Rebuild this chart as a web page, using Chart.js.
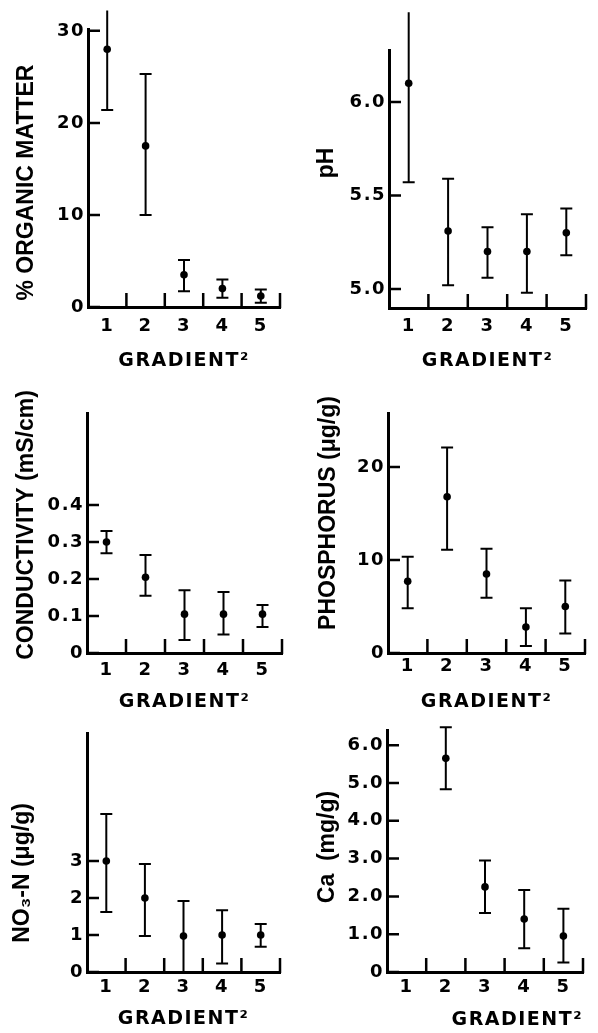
<!DOCTYPE html>
<html>
<head>
<meta charset="utf-8">
<script src="https://cdn.jsdelivr.net/npm/chart.js@4.4.1/dist/chart.umd.min.js"></script>
<style>
  html, body { margin: 0; padding: 0; background: #fff; }
  body { width: 598px; height: 1033px; position: relative; overflow: hidden; }
  canvas { position: absolute; }
</style>
</head>
<body>
<canvas id="organic" width="299" height="378" style="left:0;top:0"></canvas>
<canvas id="ph" width="299" height="378" style="left:299px;top:0"></canvas>
<canvas id="cond" width="299" height="337" style="left:0;top:378px"></canvas>
<canvas id="phos" width="299" height="337" style="left:299px;top:378px"></canvas>
<canvas id="nitrate" width="299" height="318" style="left:0;top:715px"></canvas>
<canvas id="calcium" width="299" height="318" style="left:299px;top:715px"></canvas>
<script>
// ---- data (mean, lower and upper end of the error bar) ----
const gradient = ['1', '2', '3', '4', '5'];

const organicMean = [28.0, 17.5, 3.5, 2.0, 1.2];
const organicLow  = [21.4, 10.0, 1.7, 1.0, 0.45];
const organicHigh = [32.2, 25.3, 5.1, 3.0, 1.9];
const organicTicks = [0, 10, 20, 30];

const phMean = [6.10, 5.31, 5.20, 5.20, 5.30];
const phLow  = [5.57, 5.02, 5.06, 4.98, 5.18];
const phHigh = [6.48, 5.59, 5.33, 5.40, 5.43];
const phTicks = [5.0, 5.5, 6.0];

const condMean = [0.30, 0.205, 0.105, 0.105, 0.105];
const condLow  = [0.27, 0.155, 0.035, 0.05, 0.07];
const condHigh = [0.33, 0.265, 0.17, 0.165, 0.13];
const condTicks = [0, 0.1, 0.2, 0.3, 0.4];

const phosMean = [7.7, 16.8, 8.5, 2.8, 5.0];
const phosLow  = [4.8, 11.1, 5.95, 0.75, 2.1];
const phosHigh = [10.35, 22.1, 11.2, 4.8, 7.8];
const phosTicks = [0, 10, 20];

const nitMean = [3.0, 2.0, 0.97, 1.0, 1.0];
const nitLow  = [1.62, 0.97, 0, 0.23, 0.68];
const nitHigh = [4.27, 2.92, 1.92, 1.67, 1.3];
const nitTicks = [0, 1, 2, 3];

const caMean = [null, 5.65, 2.25, 1.4, 0.95];
const caLow  = [null, 4.83, 1.56, 0.63, 0.25];
const caHigh = [null, 6.47, 2.95, 2.17, 1.67];
const caTicks = [0, 1, 2, 3, 4, 5, 6];

// ---- plugins ----
const FONT = 'DejaVu Sans';
const TITLE_FONT = 'Liberation Sans';

const spacing = {
  id: 'spacing',
  beforeLayout(chart) { chart.ctx.letterSpacing = '1.5px'; },
  beforeDraw(chart) { chart.ctx.letterSpacing = '1.5px'; }
};

// vertical bars with caps, no top cap when the bar runs off the axis
const errorBars = {
  id: 'errorBars',
  beforeDatasetsDraw(chart) {
    const {ctx, chartArea, scales: {x, y}} = chart;
    const ds = chart.data.datasets[0];
    ctx.save();
    ctx.strokeStyle = '#000';
    ctx.lineWidth = 2;
    ctx.beginPath();
    ds.errLow.forEach((lo, i) => {
      const hi = ds.errHigh[i];
      if (lo == null || hi == null) return;
      const px = x.getPixelForValue(i);
      const y1 = y.getPixelForValue(lo);
      const y2 = y.getPixelForValue(hi);
      ctx.moveTo(px, y1); ctx.lineTo(px, y2);
      ctx.moveTo(px - 6, y1); ctx.lineTo(px + 6, y1);
      if (y2 > chartArea.top - 10) { ctx.moveTo(px - 6, y2); ctx.lineTo(px + 6, y2); }
    });
    ctx.stroke();
    ctx.restore();
  }
};

// tick marks pointing into the plot
const innerTicks = {
  id: 'innerTicks',
  afterDraw(chart) {
    const {ctx, chartArea: a, scales: {x, y}} = chart;
    ctx.save();
    ctx.strokeStyle = '#000';
    ctx.lineWidth = 2.5;
    ctx.beginPath();
    y.ticks.forEach(t => {
      const py = y.getPixelForValue(t.value);
      ctx.moveTo(a.left, py); ctx.lineTo(a.left + 12, py);
    });
    const n = x.ticks.length;
    for (let i = 1; i <= n; i++) {
      const px = i < n ? (x.getPixelForValue(i - 1) + x.getPixelForValue(i)) / 2 : a.right;
      ctx.moveTo(px, a.bottom + 1); ctx.lineTo(px, a.bottom - 14);
    }
    ctx.stroke();
    ctx.restore();
  }
};

const yTitle = {
  id: 'yTitle',
  afterDraw(chart, args, opts) {
    const ctx = chart.ctx;
    ctx.save();
    ctx.letterSpacing = '0px';
    ctx.fillStyle = '#000';
    ctx.font = 'bold 23px "' + TITLE_FONT + '"';
    ctx.textAlign = 'center';
    ctx.textBaseline = 'middle';
    ctx.translate(opts.x, opts.y);
    ctx.rotate(-Math.PI / 2);
    ctx.fillText(opts.text, 0, 0);
    ctx.restore();
  }
};

const oneDecimal = v => v === 0 ? '0' : v.toFixed(1);

function panel(id, o) {
  return new Chart(document.getElementById(id), {
    type: 'line',
    data: {
      labels: gradient,
      datasets: [{
        data: o.mean,
        errLow: o.low,
        errHigh: o.high,
        showLine: false,
        pointRadius: 3.8,
        pointBackgroundColor: '#000',
        pointBorderWidth: 0,
        clip: false
      }]
    },
    options: {
      responsive: false,
      animation: false,
      events: [],
      layout: { padding: o.pad },
      plugins: {
        legend: { display: false },
        tooltip: { enabled: false },
        yTitle: o.yTitle
      },
      scales: {
        x: {
          type: 'category',
          offset: true,
          grid: { display: false, drawTicks: false },
          border: { color: '#000', width: 3 },
          ticks: { color: '#000', font: { family: FONT, size: 18, weight: 'bold' }, padding: o.xPad, maxRotation: 0, autoSkip: false },
          title: {
            display: true, text: 'GRADIENT²', color: '#000',
            font: { family: FONT, size: 19, weight: 'bold' },
            padding: { top: 0, bottom: o.xTitlePad },
            align: o.xAlign || 'center'
          },
          afterFit: s => { s.height = o.xHeight; }
        },
        y: {
          min: o.min,
          max: o.max,
          grid: { display: false, drawTicks: false },
          border: { color: '#000', width: 3 },
          ticks: { color: '#000', font: { family: FONT, size: 18, weight: 'bold' }, padding: 3, autoSkip: false, callback: o.fmt || (v => v) },
          afterBuildTicks: s => { s.ticks = o.ticks.map(v => ({ value: v })); },
          afterFit: s => { s.width = o.yWidth; }
        }
      }
    },
    plugins: [spacing, errorBars, innerTicks, yTitle]
  });
}

panel('organic', {
  mean: organicMean, low: organicLow, high: organicHigh, ticks: organicTicks,
  min: 0, max: 30.2,
  pad: { left: 0, top: 29, right: 19, bottom: 0 }, yWidth: 88, xHeight: 71, xPad: 9, xTitlePad: 5.5,
  yTitle: { text: '% ORGANIC MATTER', x: 26.5, y: 182.5 }
});

panel('ph', {
  mean: phMean, low: phLow, high: phHigh, ticks: phTicks, fmt: oneDecimal,
  min: 4.898, max: 6.278,
  pad: { left: 0, top: 50, right: 12, bottom: 0 }, yWidth: 90, xHeight: 70, xPad: 8, xTitlePad: 5.5,
  yTitle: { text: 'pH', x: 28, y: 163 }
});

panel('cond', {
  mean: condMean, low: condLow, high: condHigh, ticks: condTicks, fmt: oneDecimal,
  min: 0, max: 0.649,
  pad: { left: 0, top: 35, right: 17, bottom: 0 }, yWidth: 87, xHeight: 62, xPad: 7, xTitlePad: 1.5,
  yTitle: { text: 'CONDUCTIVITY (mS/cm)', x: 27, y: 147 }
});

panel('phos', {
  mean: phosMean, low: phosLow, high: phosHigh, ticks: phosTicks,
  min: 0, max: 25.8,
  pad: { left: 0, top: 35, right: 13, bottom: 0 }, yWidth: 89, xHeight: 62, xPad: 3, xTitlePad: 1.5,
  yTitle: { text: 'PHOSPHORUS (μg/g)', x: 30, y: 135 }
});

panel('nitrate', {
  mean: nitMean, low: nitLow, high: nitHigh, ticks: nitTicks,
  min: 0, max: 6.46,
  pad: { left: 0, top: 18, right: 19, bottom: 0 }, yWidth: 87, xHeight: 61, xPad: 4.5, xTitlePad: 2.5,
  yTitle: { text: 'NO₃-N (μg/g)', x: 23, y: 158 }
});

panel('calcium', {
  mean: caMean, low: caLow, high: caHigh, ticks: caTicks, fmt: oneDecimal,
  min: 0, max: 6.40,
  pad: { left: 0, top: 15, right: 15, bottom: 0 }, yWidth: 88, xHeight: 61, xPad: 4.5, xTitlePad: 1.5, xAlign: 'end',
  yTitle: { text: 'Ca  (mg/g)', x: 29, y: 132 }
});
</script>
</body>
</html>
